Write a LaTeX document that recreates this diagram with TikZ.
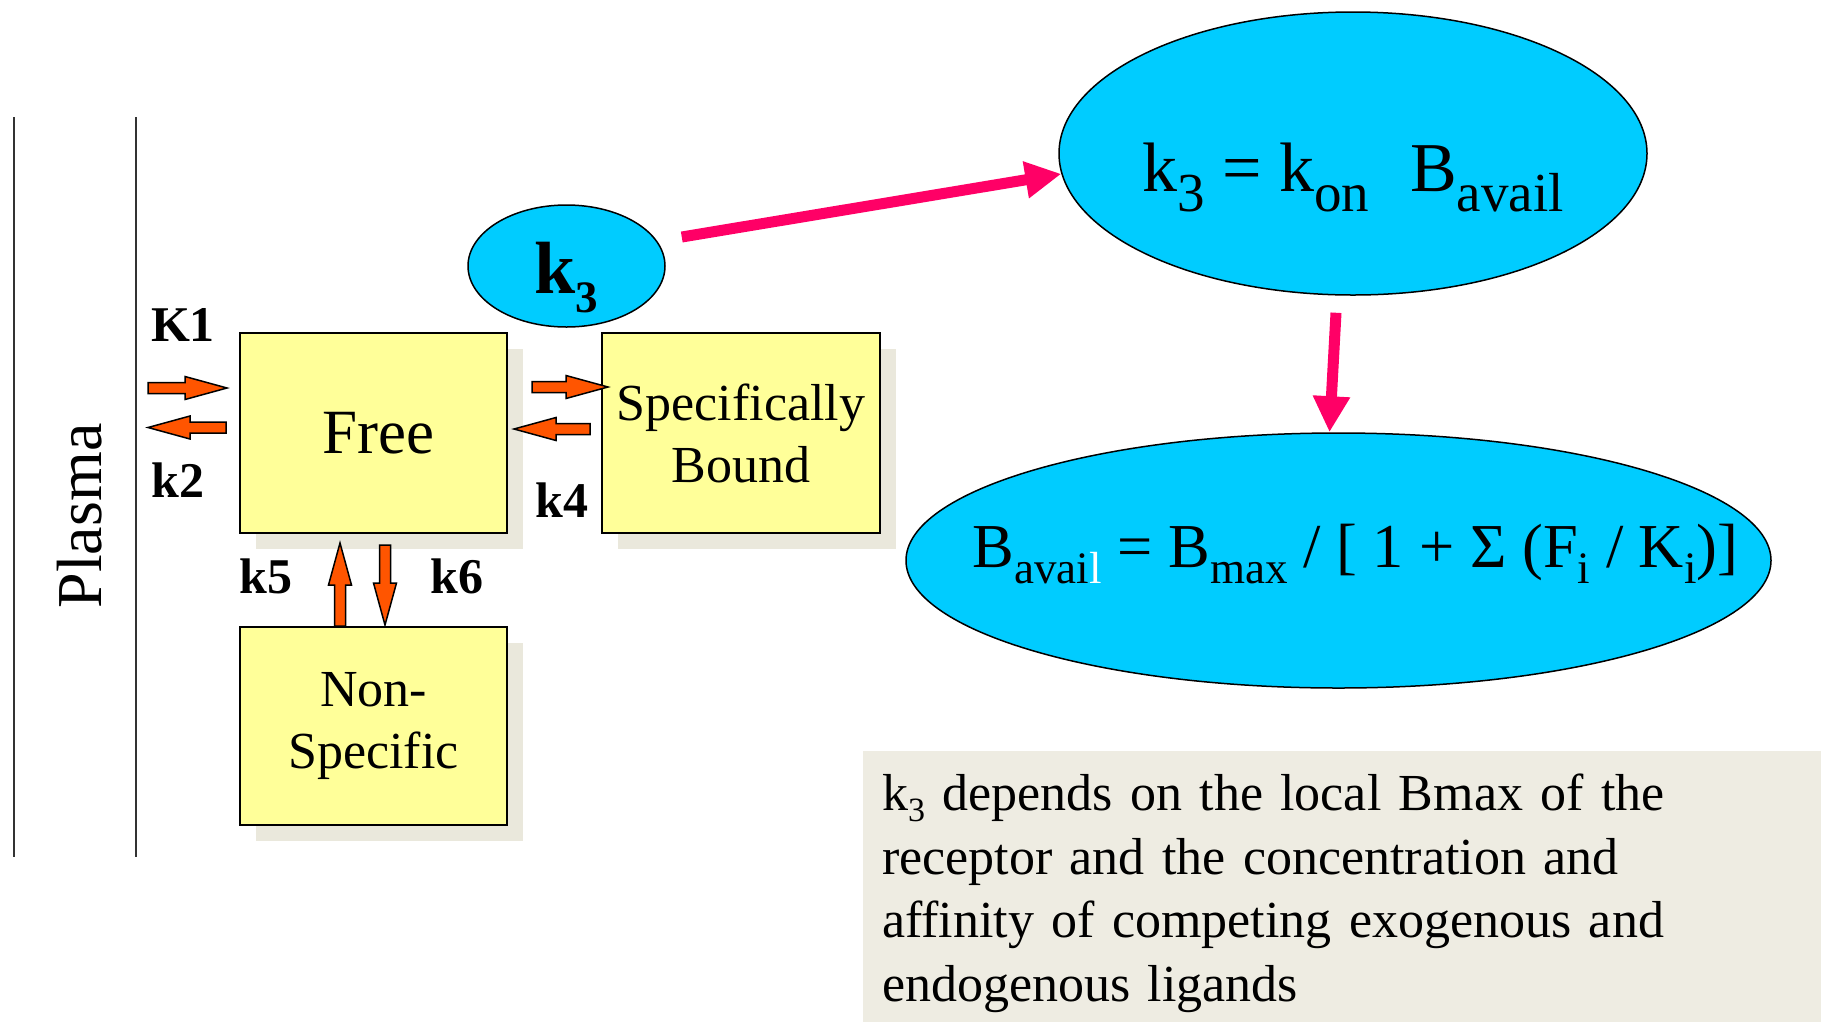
\documentclass[tikz,border=0pt]{standalone}
\usepackage{fontspec}
\setmainfont{Liberation Serif}
\usetikzlibrary{arrows.meta,calc,shadows,shapes.geometric}
\definecolor{BoxYellow}{HTML}{FFFF99}
\definecolor{BoxShadow}{HTML}{EAE8DC}
\definecolor{NoteFill}{HTML}{EEECE2}
\definecolor{RateCyan}{HTML}{00CCFF}
\definecolor{PointerPink}{HTML}{FF0066}
\definecolor{FlowOrange}{HTML}{FF5500}
\definecolor{MembraneInk}{HTML}{333333}
\newcommand{\lowtext}[3]{\raisebox{-#1}{\fontsize{#2}{#2}\selectfont #3}}

\begin{document}
\begin{tikzpicture}[
    x=1pt, y=-1pt,
    compartment/.style={
        draw=black, line width=2pt, fill=BoxYellow,
        align=center, inner sep=0pt,
        font=\fontsize{52}{62}\selectfont,
        drop shadow={shadow xshift=16pt, shadow yshift=-16pt,
                     fill=BoxShadow, opacity=1}
    },
    rate/.style={ellipse, draw=black, line width=1.5pt, fill=RateCyan,
                 inner sep=0pt},
    rate label/.style={font=\bfseries\fontsize{50}{56}\selectfont},
    membrane/.style={draw=MembraneInk, line width=2pt},
    pointer/.style={draw=PointerPink, line width=11pt,
                    -{Triangle[length=36pt,width=35pt]}},
    rateflow/.style={draw=black, line width=1.5pt, fill=FlowOrange,
        line join=miter,
        to path={
            ($(\tikztostart)!5.5pt!90:(\tikztotarget)$)
            -- ($(\tikztotarget)!42pt!(\tikztostart)!5.5pt!90:(\tikztotarget)$)
            -- ($(\tikztotarget)!42pt!(\tikztostart)!11.5pt!90:(\tikztotarget)$)
            -- (\tikztotarget)
            -- ($(\tikztotarget)!42pt!(\tikztostart)!11.5pt!-90:(\tikztotarget)$)
            -- ($(\tikztotarget)!42pt!(\tikztostart)!5.5pt!-90:(\tikztotarget)$)
            -- ($(\tikztostart)!5.5pt!-90:(\tikztotarget)$)
            -- cycle}
    },
    note/.style={fill=NoteFill, inner xsep=19pt, inner ysep=23pt,
                 text width=920pt, align=left,
                 font=\fontsize{52}{63.5}\selectfont}
]
    \useasboundingbox (0,0) rectangle (1828,1021);

    % plasma side
    \draw[membrane] (14,117) -- (14,857);
    \draw[membrane] (136,117) -- (136,857);
    \node[rotate=90, font=\fontsize{64}{70}\selectfont] (plasma) at (80,516)
        {Plasma};

    % compartments
    \node[compartment, minimum width=267pt, minimum height=200pt] (free)
        at (373.5,433) {\fontsize{63}{70}\selectfont\hspace{9pt}Free};
    \node[compartment, minimum width=278pt, minimum height=200pt] (bound)
        at (741,433) {Specifically\\Bound};
    \node[compartment, minimum width=267pt, minimum height=198pt] (nonspec)
        at (373.5,726) {Non-\\Specific};

    % exchange arrows
    \draw[rateflow] ([xshift=-91pt,yshift=45pt]free.west)
        to ([xshift=-12pt,yshift=45pt]free.west);
    \draw[rateflow] ([xshift=-13pt,yshift=5.5pt]free.west)
        to ([xshift=-91pt,yshift=5.5pt]free.west);
    \draw[rateflow] ([xshift=-69pt,yshift=46pt]bound.west)
        to ([xshift=7pt,yshift=46pt]bound.west);
    \draw[rateflow] ([xshift=-11pt,yshift=4pt]bound.west)
        to ([xshift=6pt,yshift=4pt]free.east);
    \draw[rateflow] ([xshift=-33.5pt]nonspec.north)
        to ([xshift=-33.5pt,yshift=-9pt]free.south);
    \draw[rateflow] ([xshift=11.5pt,yshift=-11pt]free.south)
        to ([xshift=11.5pt,yshift=1pt]nonspec.north);

    \node[rate label] (kone) at (183,325) {K1};
    \node[rate label] (ktwo) at (178,480) {k2};
    \node[rate label] (kfour) at (562,500) {k4};
    \node[rate label] (kfive) at (266,576) {k5};
    \node[rate label] (ksix) at (457,576) {k6};

    % binding rate
    \node[rate, minimum width=197pt, minimum height=122pt] (kthree)
        at (566.5,266) {};
    \node[anchor=base, font=\bfseries\fontsize{74}{80}\selectfont]
        (kthreetext) at ([yshift=-27pt]kthree.center)
        {k\lowtext{19pt}{45}{3}};

    \node[rate, minimum width=588pt, minimum height=283pt] (kon)
        at (1353,153.5) {};
    \node[anchor=base, font=\fontsize{70}{80}\selectfont] (kontext)
        at ([yshift=-38pt]kon.center)
        {k\lowtext{20pt}{55}{3} = k\lowtext{20pt}{55}{on}\hspace{41pt}B\lowtext{20pt}{55}{avail}};

    \node[rate, minimum width=865pt, minimum height=255pt] (bavail)
        at (1338.5,560.5) {};
    \node[anchor=base, font=\fontsize{62.5}{70}\selectfont] (bavailtext)
        at ([xshift=17pt,yshift=-6.5pt]bavail.center)
        {B\lowtext{16pt}{45}{avai\textcolor{white}{l}} = B\lowtext{16pt}{45}{max} / [ 1 + Σ (F\lowtext{16pt}{45}{i} / K\lowtext{16pt}{45}{i})]};

    \draw[pointer] ([xshift=16pt,yshift=29pt]kthree.east) -- (kon.184);
    \draw[pointer] ([xshift=-17pt,yshift=-17pt]kon.south)
        -- ([xshift=-9pt]bavail.north);

    % explanation
    \node[note, anchor=north west] (explain) at (863,751)
        {k\lowtext{11pt}{34}{3} depends on the local Bmax of the\\
         receptor and the concentration and\\
         affinity of competing exogenous and\\
         endogenous ligands};
\end{tikzpicture}
\end{document}
